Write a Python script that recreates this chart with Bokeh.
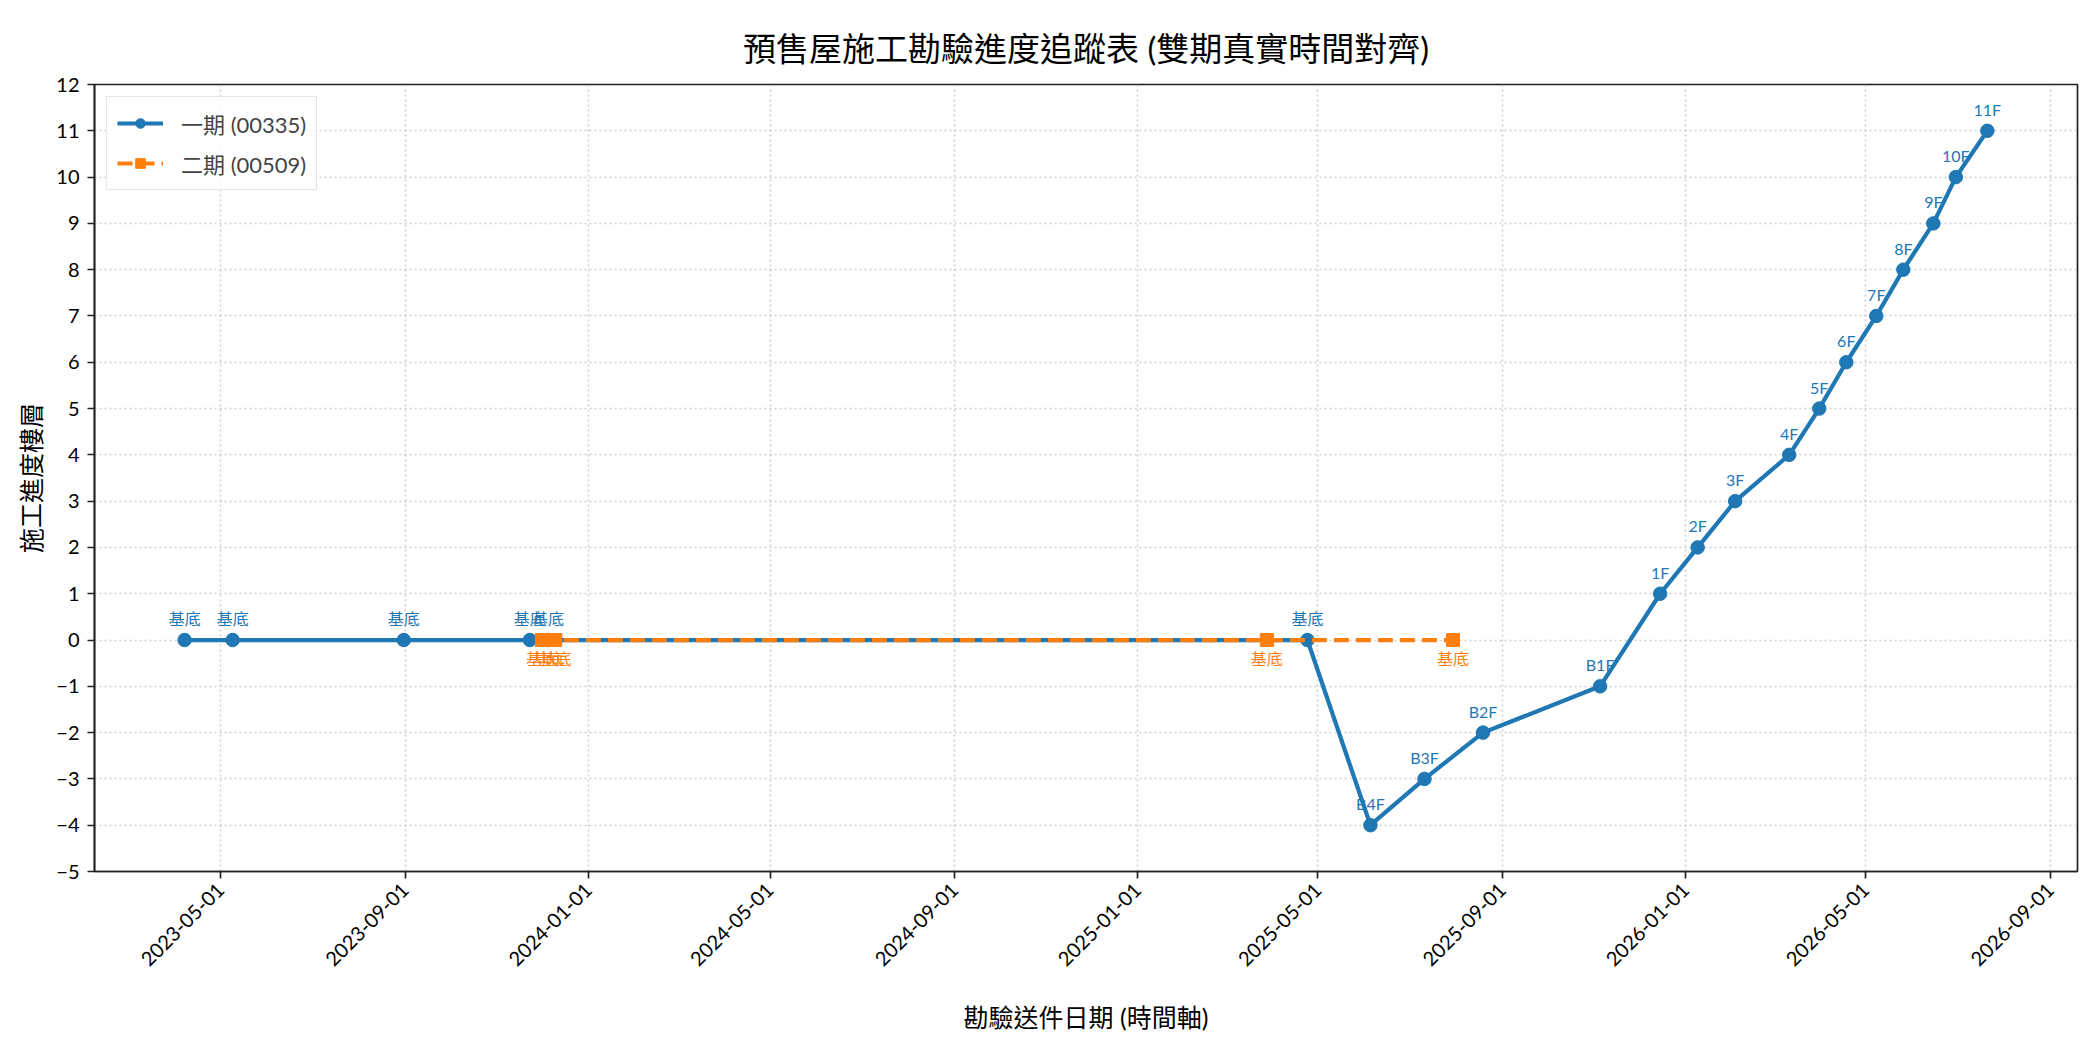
import math
import pandas as pd
from bokeh.plotting import figure
from bokeh.models import (ColumnDataSource, Range1d, FixedTicker, DatetimeTickFormatter,
                          Legend, LegendItem)
from bokeh.core.properties import value
from bokeh.embed import file_html
from bokeh.resources import INLINE

# ---------------- data ----------------
title_text = "預售屋施工勘驗進度追蹤表 (雙期真實時間對齊)"
x_label = "勘驗送件日期 (時間軸)"
y_label = "施工進度樓層"

phase1_name = "一期 (00335)"
phase1_dates = ["2023-04-07", "2023-05-09", "2023-08-31", "2023-11-23", "2023-12-05",
                "2025-04-24", "2025-06-05", "2025-07-11", "2025-08-19", "2025-11-05",
                "2025-12-15", "2026-01-09", "2026-02-03", "2026-03-11", "2026-03-31",
                "2026-04-18", "2026-05-08", "2026-05-26", "2026-06-15", "2026-06-30",
                "2026-07-21"]
phase1_levels = [0, 0, 0, 0, 0, 0, -4, -3, -2, -1, 1, 2, 3, 4, 5, 6, 7, 8, 9, 10, 11]
phase1_labels = ["基底", "基底", "基底", "基底", "基底", "基底", "B4F", "B3F", "B2F", "B1F",
                 "1F", "2F", "3F", "4F", "5F", "6F", "7F", "8F", "9F", "10F", "11F"]

phase2_name = "二期 (00509)"
phase2_dates = ["2023-12-01", "2023-12-05", "2023-12-10", "2025-03-28", "2025-07-30"]
phase2_levels = [0, 0, 0, 0, 0]
phase2_labels = ["基底", "基底", "基底", "基底", "基底"]

x_tick_labels = ["2023-05-01", "2023-09-01", "2024-01-01", "2024-05-01", "2024-09-01",
                 "2025-01-01", "2025-05-01", "2025-09-01", "2026-01-01", "2026-05-01",
                 "2026-09-01"]
y_ticks = list(range(-5, 13))

BLUE = "#1f77b4"
ORANGE = "#ff7f0e"
FONT = "Lato, Noto Sans CJK TC"


def to_ms(s):
    return pd.Timestamp(s).value / 1e6


src1 = ColumnDataSource(dict(x=[to_ms(d) for d in phase1_dates], y=phase1_levels, t=phase1_labels))
src2 = ColumnDataSource(dict(x=[to_ms(d) for d in phase2_dates], y=phase2_levels, t=phase2_labels))

all_x = [to_ms(d) for d in phase1_dates + phase2_dates]
xmin, xmax = min(all_x), max(all_x)
pad = (xmax - xmin) * 0.05

p = figure(width=2084, height=1034, output_backend="svg", toolbar_location=None,
           x_axis_type="datetime",
           x_range=Range1d(xmin - pad, xmax + pad), y_range=Range1d(-5, 12),
           min_border_left=94, min_border_right=7, min_border_top=84, min_border_bottom=159)

p.title.text = title_text
p.title.align = "center"
p.title.text_font = FONT
p.title.text_font_size = "33px"
p.title.text_font_style = "normal"
p.title.text_color = "black"
p.title.standoff = 34

# outline (spines)
p.outline_line_color = "#222222"
p.outline_line_width = 1.7
p.background_fill_color = "white"
p.border_fill_color = "white"

# grids
for g in (p.xgrid, p.ygrid):
    g.grid_line_color = "#b0b0b0"
    g.grid_line_alpha = 0.6
    g.grid_line_dash = "2 3"
    g.grid_line_width = 1.6

# axes
xa = p.xaxis[0]
ya = p.yaxis[0]
xa.ticker = FixedTicker(ticks=[to_ms(s) for s in x_tick_labels])
fmt = "%Y-%m-%d"
xa.formatter = DatetimeTickFormatter(milliseconds=fmt, seconds=fmt, minsec=fmt, minutes=fmt,
                                     hourmin=fmt, hours=fmt, days=fmt, months=fmt, years=fmt)
xa.major_label_orientation = math.pi / 4
ya.ticker = FixedTicker(ticks=y_ticks)
for ax in (xa, ya):
    ax.axis_line_color = "#222222"
    ax.axis_line_width = 1.7
    ax.major_tick_line_color = "#222222"
    ax.major_tick_line_width = 1.7
    ax.major_tick_in = 0
    ax.major_tick_out = 7
    ax.minor_tick_line_color = None
    ax.major_label_text_font = FONT
    ax.major_label_text_font_size = "20px"
    ax.major_label_text_color = "black"
    ax.axis_label_text_font = FONT
    ax.axis_label_text_font_size = "25px"
    ax.axis_label_text_font_style = "normal"
    ax.axis_label_text_color = "black"
xa.axis_label = x_label
ya.axis_label = y_label
xa.major_label_standoff = 8
ya.major_label_standoff = 8
xa.axis_label_standoff = 26
ya.axis_label_standoff = 7

# series
l1 = p.line("x", "y", source=src1, line_color=BLUE, line_width=4.2)
s1 = p.scatter("x", "y", source=src1, marker="circle", size=13.5, fill_color=BLUE, line_color=BLUE)
l2 = p.line("x", "y", source=src2, line_color=ORANGE, line_width=4.2, line_dash="15 7")
s2 = p.scatter("x", "y", source=src2, marker="square", size=13, fill_color=ORANGE, line_color=ORANGE)

p.text("x", "y", text="t", source=src1, y_offset=-12, text_align="center", text_baseline="bottom",
       text_font=value(FONT), text_font_size="16px", text_color=BLUE)
p.text("x", "y", text="t", source=src2, y_offset=9, text_align="center", text_baseline="top",
       text_font=value(FONT), text_font_size="16px", text_color=ORANGE)

legend = Legend(items=[LegendItem(label=phase1_name, renderers=[l1, s1]),
                       LegendItem(label=phase2_name, renderers=[l2, s2])],
                location="top_left")
legend.label_text_font = FONT
legend.label_text_font_size = "22px"
legend.border_line_color = "#cccccc"
legend.border_line_width = 1.5
legend.background_fill_alpha = 0.85
legend.glyph_width = 46
legend.glyph_height = 24
legend.spacing = 8
legend.padding = 10
legend.margin = 12
legend.label_standoff = 18
p.add_layout(legend)

open("out.html", "w").write(file_html(p, INLINE))
